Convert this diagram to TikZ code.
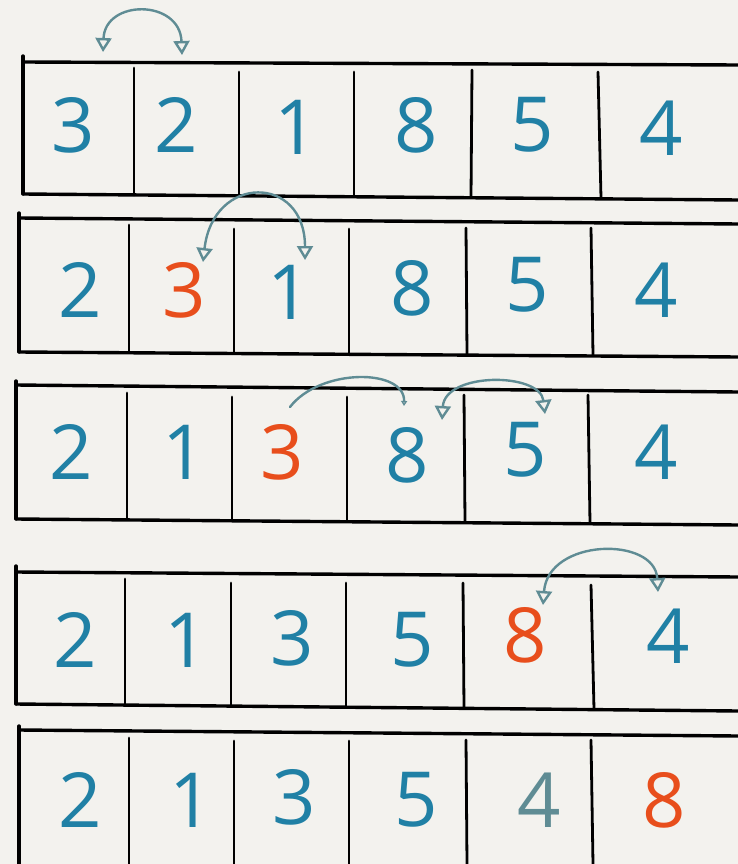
\documentclass[tikz,border=0pt]{standalone}
\usepackage{fontspec}
\setmainfont{Open Sans}
\usepackage{xcolor}
\definecolor{sortblue}{RGB}{32,128,165}
\definecolor{sortred}{RGB}{232,78,28}
\definecolor{swapteal}{RGB}{95,140,148}
\definecolor{paper}{RGB}{243,242,238}
\usetikzlibrary{arrows.meta}

\tikzset{
  frame/.style={draw=black, line width=3.4pt, line cap=round},
  bar/.style={draw=black, line width=2.8pt, line cap=round},
  digit/.style={inner sep=0pt, font=\fontsize{76}{76}\selectfont, text=sortblue},
  moved/.style={digit, text=sortred},
  swap/.style={draw=swapteal, line width=2.4pt, line cap=round,
    {Triangle[open, length=14pt, width=16pt]}-{Triangle[open, length=14pt, width=16pt]}},
  push/.style={draw=swapteal, line width=2.4pt, line cap=round,
    -{Triangle[open, length=5pt, width=6pt]}}
}

\begin{document}
\begin{tikzpicture}[x=1pt, y=-1pt]
  \useasboundingbox[fill=paper] (0,0) rectangle (738,864);

  % Pass 1: 3 2 1 8 5 4
  \draw[frame] (23,62) -- (738,65);
  \draw[frame] (23,194) -- (738,200);
  \draw[frame] (23,56) -- (23,194);
  \draw[bar] (134,68) -- (134,195);
  \draw[bar] (239,72) -- (239,196);
  \draw[bar] (354,72) -- (354,196);
  \draw[bar] (472,70) -- (471,197);
  \draw[bar] (598,72) -- (601,198);
  \node[digit] (a1) at (73,125) {3};
  \node[digit] (a2) at (176,125) {2};
  \node[digit] (a3) at (296,127) {1};
  \node[digit] (a4) at (416,125) {8};
  \node[digit] (a5) at (532,125) {5};
  \node[digit] (a6) at (661,128) {4};
  \coordinate (a1t) at (103,52);
  \coordinate (a2t) at (182,55);
  \draw[swap] (a1t) .. controls (105,-1) and (180,-1) .. (a2t);

  % Pass 2: 2 3 1 8 5 4
  \draw[frame] (19,218) -- (738,224);
  \draw[frame] (19,352) -- (738,357);
  \draw[frame] (19,213) -- (19,352);
  \draw[bar] (129,225) -- (129,352);
  \draw[bar] (234,229) -- (234,353);
  \draw[bar] (349,229) -- (349,353);
  \draw[bar] (466,228) -- (467,354);
  \draw[bar] (591,228) -- (593,355);
  \node[digit] (b1) at (80,290) {2};
  \node[moved] (b2) at (184,290) {3};
  \node[digit] (b3) at (289,292) {1};
  \node[digit] (b4) at (412,288) {8};
  \node[digit] (b5) at (527,285) {5};
  \node[digit] (b6) at (656,290) {4};
  \coordinate (b2t) at (203,262);
  \coordinate (b3t) at (305,260);
  \draw[swap] (b2t) .. controls (213,174) and (305,174) .. (b3t);

  % Pass 3: 2 1 3 8 5 4
  \draw[frame] (16,385) -- (738,392);
  \draw[frame] (16,519) -- (738,525);
  \draw[frame] (16,381) -- (16,519);
  \draw[bar] (127,393) -- (127,519);
  \draw[bar] (232,397) -- (232,520);
  \draw[bar] (347,397) -- (347,521);
  \draw[bar] (464,395) -- (465,522);
  \draw[bar] (588,395) -- (590,523);
  \node[digit] (c1) at (71,452) {2};
  \node[digit] (c2) at (184,452) {1};
  \node[moved] (c3) at (282,452) {3};
  \node[digit] (c4) at (407,455) {8};
  \node[digit] (c5) at (525,450) {5};
  \node[digit] (c6) at (656,452) {4};
  \coordinate (c3t) at (290,407);
  \coordinate (c4t) at (404,406);
  \draw[push] (c3t) .. controls (320,368) and (405,368) .. (c4t);
  \coordinate (c4u) at (442,420);
  \coordinate (c5t) at (545,414);
  \draw[swap] (c4u) .. controls (445,372) and (540,372) .. (c5t);

  % Pass 4: 2 1 3 5 8 4
  \draw[frame] (16,572) -- (738,577);
  \draw[frame] (16,704) -- (738,711);
  \draw[frame] (16,566) -- (16,704);
  \draw[bar] (125,579) -- (125,705);
  \draw[bar] (231,583) -- (231,706);
  \draw[bar] (346,583) -- (346,707);
  \draw[bar] (463,583) -- (464,708);
  \draw[bar] (591,585) -- (594,709);
  \node[digit] (d1) at (75,640) {2};
  \node[digit] (d2) at (186,640) {1};
  \node[digit] (d3) at (292,638) {3};
  \node[digit] (d4) at (412,640) {5};
  \node[moved] (d5) at (525,635) {8};
  \node[digit] (d6) at (668,636) {4};
  \coordinate (d5t) at (543,605);
  \coordinate (d6t) at (658,592);
  \draw[swap] (d5t) .. controls (548,538) and (655,536) .. (d6t);

  % Pass 5: 2 1 3 5 4 8
  \draw[frame] (19,730) -- (738,736);
  \draw[frame] (19,726) -- (19,864);
  \draw[bar] (129,738) -- (129,864);
  \draw[bar] (234,741) -- (234,864);
  \draw[bar] (349,741) -- (349,864);
  \draw[bar] (466,740) -- (467,864);
  \draw[bar] (591,740) -- (593,864);
  \node[digit] (e1) at (80,800) {2};
  \node[digit] (e2) at (191,800) {1};
  \node[digit] (e3) at (294,797) {3};
  \node[digit] (e4) at (416,800) {5};
  \node[digit, text=swapteal] (e5) at (539,800) {4};
  \node[moved] (e6) at (664,800) {8};
\end{tikzpicture}
\end{document}
